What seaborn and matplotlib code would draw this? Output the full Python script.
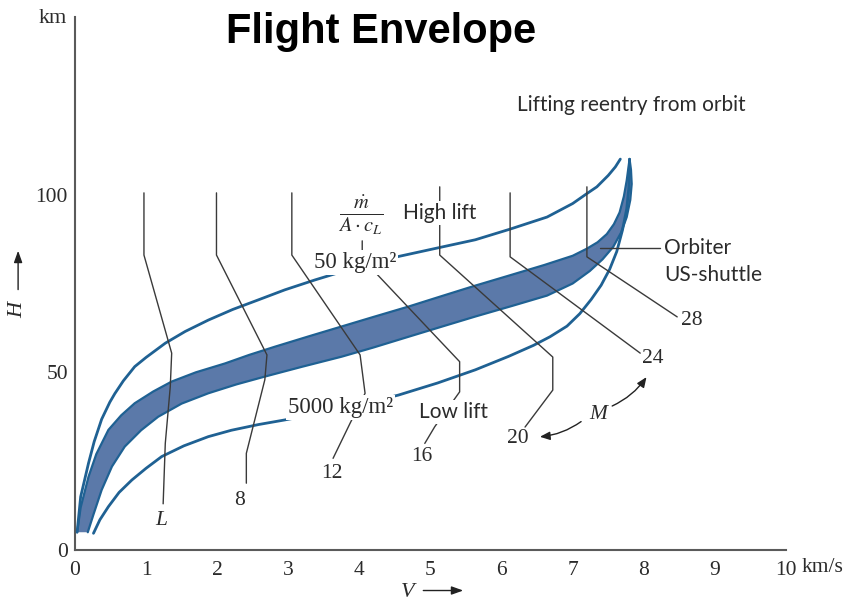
import numpy as np
import matplotlib
matplotlib.use("Agg")
import matplotlib.pyplot as plt
import seaborn as sns

# Corridor boundaries: velocity V (km/s) and altitude H (km)
high_lift_v = [0.03, 0.08, 0.19, 0.27, 0.375, 0.49, 0.56, 0.68, 0.84, 1.00, 1.27, 1.55, 1.875,
               2.22, 2.58, 2.95, 3.375, 3.90, 4.55, 5.10, 5.63, 6.12, 6.64, 7.00, 7.20, 7.34,
               7.50, 7.60, 7.67]
high_lift_h = [5, 15, 24.4, 30.5, 36.8, 41.6, 44, 47.6, 51.6, 54.2, 58.2, 61.5, 64.7,
               67.7, 70.4, 73.2, 76, 79.2, 82.6, 85.0, 87.3, 90.3, 93.7, 97.5, 100.3, 102.2,
               105.4, 107.8, 110]

low_lift_v = [0.26, 0.35, 0.47, 0.62, 0.80, 1.00, 1.22, 1.53, 1.875, 2.20, 2.58, 2.95, 3.375,
              3.95, 4.55, 5.10, 5.63, 6.10, 6.45, 6.68, 6.92, 7.10, 7.26, 7.40, 7.52, 7.62,
              7.70, 7.76, 7.79, 7.80]
low_lift_h = [4.7, 8.5, 12.2, 16.2, 19.7, 23, 26.3, 29.3, 31.9, 33.7, 35.3, 36.6, 38.2,
              40.6, 43.6, 47, 50.7, 54.5, 57.6, 60, 63, 66.5, 70.5, 74.5, 79, 84,
              90, 96, 102, 110]

orbiter_upper_v = [0.03, 0.08, 0.19, 0.30, 0.47, 0.65, 0.84, 1.10, 1.36, 1.70, 2.11, 2.45,
                   2.81, 3.30, 3.75, 4.20, 4.69, 5.15, 5.63, 6.10, 6.60, 7.00, 7.20, 7.35,
                   7.48, 7.58, 7.66, 7.72, 7.76, 7.80]
orbiter_upper_h = [5, 12, 20.6, 27, 33.8, 37.9, 41.3, 44.6, 47.4, 50, 52.5, 54.9,
                   57.2, 60.2, 62.9, 65.6, 68.5, 71.4, 74.4, 77.2, 80.2, 82.8, 84.8, 86.6,
                   88.9, 91.7, 95, 99.5, 104, 110]
orbiter_lower_v = [0.18, 0.26, 0.375, 0.52, 0.70, 0.93, 1.17, 1.50, 1.875, 2.27, 2.67, 3.20,
                   3.75, 4.20, 4.69, 5.15, 5.63, 6.15, 6.64, 7.00, 7.24, 7.42, 7.57, 7.68,
                   7.76, 7.81, 7.83, 7.82, 7.80]
orbiter_lower_h = [5, 10, 16.9, 23.5, 29.1, 33.7, 37.5, 41.2, 44.1, 46.6, 48.8, 51.6,
                   54.4, 57, 60, 62.8, 65.7, 68.7, 71.6, 75, 78.5, 81.8, 85.3, 89.3,
                   93.7, 98.5, 103, 107, 110]

# Mach number lines
mach_lines = {
    "L":  ([0.97, 0.97, 1.36, 1.34, 1.27, 1.24], [100.5, 83, 55.4, 45.9, 30, 13]),
    "8":  ([1.99, 1.99, 2.70, 2.67, 2.41, 2.41], [100.5, 83, 54.9, 47.9, 27.2, 18.8]),
    "12": ([3.05, 3.05, 4.01, 4.08, 3.87, 3.63], [100.5, 83, 54.9, 44.1, 35.7, 25.8]),
    "16": ([4.04, 4.04, 5.41, 5.41, 5.06, 4.92], [87, 82, 53, 44.5, 34.7, 30]),
    "20": ([5.13, 5.13, 6.72, 6.72, 6.33], [102.2, 83, 54.3, 45, 34.6]),
    "24": ([6.12, 6.12, 7.95], [100.5, 82.5, 55.4]),
    "28": ([7.20, 7.20, 8.47], [102.2, 82.5, 65.6]),
}
mach_label_pos = {
    "L": (1.21, 8.4), "8": (2.32, 14.0), "12": (3.61, 21.6), "16": (4.88, 26.3),
    "20": (6.23, 31.5), "24": (8.13, 54.0), "28": (8.68, 64.5),
}

x_ticks = [0, 1, 2, 3, 4, 5, 6, 7, 8, 9, 10]
y_ticks = [0, 50, 100]

orbiter_leader_v = [7.38, 8.23]
orbiter_leader_h = [85, 85]

sns.set_style("white")
plt.rcParams["font.family"] = ["Liberation Serif", "DejaVu Serif"]
plt.rcParams["mathtext.fontset"] = "stix"

curve_col = "#1f6193"
band_col = "#5b79a9"
mach_col = "#3a3a3a"
axis_col = "#5a5a5a"
txt_col = "#2b2b2b"
sans = ["Lato", "DejaVu Sans"]
num_fs = 15.5
sans_fs = 15

fig = plt.figure(figsize=(8.56, 6.06), dpi=100)
ax = fig.add_axes([0.0876, 0.0924, 0.8306, 0.8796])
ax.set_xlim(0, 10)
ax.set_ylim(0, 150)

# Orbiter corridor band
band_v = np.concatenate([orbiter_upper_v, orbiter_lower_v[::-1]])
band_h = np.concatenate([orbiter_upper_h, orbiter_lower_h[::-1]])
ax.fill(band_v, band_h, color=band_col, lw=0, zorder=2)
for v, h in [(orbiter_upper_v, orbiter_upper_h), (orbiter_lower_v, orbiter_lower_h)]:
    sns.lineplot(x=v, y=h, sort=False, estimator=None, ax=ax, color=curve_col, lw=1.6, zorder=3)

# Outer boundaries
for v, h in [(high_lift_v, high_lift_h), (low_lift_v, low_lift_h)]:
    sns.lineplot(x=v, y=h, sort=False, estimator=None, ax=ax, color=curve_col, lw=2.0, zorder=3)

# Mach lines and their labels
for name, (v, h) in mach_lines.items():
    sns.lineplot(x=v, y=h, sort=False, estimator=None, ax=ax, color=mach_col, lw=1.0, zorder=4)
    lx, ly = mach_label_pos[name]
    ax.text(lx, ly, name, ha="center", va="center", fontsize=num_fs, color=txt_col,
            style="italic" if name == "L" else "normal", zorder=6)

sns.lineplot(x=orbiter_leader_v, y=orbiter_leader_h, sort=False, estimator=None, ax=ax,
             color=mach_col, lw=1.0, zorder=4)

white = dict(facecolor="white", edgecolor="none", pad=1.5)
ax.text(4.01, 94.3, r"$\frac{\dot{m}}{A\cdot c_L}$", ha="center", va="center",
        fontsize=21, color=txt_col, bbox=white, zorder=7)
ax.text(3.94, 80.8, "50 kg/m²", ha="center", va="center", fontsize=16.5,
        color=txt_col, bbox=white, zorder=7)
ax.text(3.73, 40.0, "5000 kg/m²", ha="center", va="center", fontsize=16.5,
        color=txt_col, bbox=white, zorder=7)
ax.text(5.13, 94.8, "High lift", ha="center", va="center", fontsize=sans_fs,
        family=sans, color=txt_col, bbox=white, zorder=7)
ax.text(5.32, 38.9, "Low lift", ha="center", va="center", fontsize=sans_fs,
        family=sans, color=txt_col, bbox=white, zorder=7)
ax.text(8.29, 85.0, "Orbiter", ha="left", va="center", fontsize=sans_fs,
        family=sans, color=txt_col, zorder=7)
ax.text(8.29, 77.4, "US-shuttle", ha="left", va="center", fontsize=sans_fs,
        family=sans, color=txt_col, zorder=7)
ax.text(7.83, 125.2, "Lifting reentry from orbit", ha="center", va="center",
        fontsize=sans_fs, family=sans, color=txt_col, zorder=7)

# Mach number double arrow
ax.text(7.36, 38.2, "M", ha="center", va="center", fontsize=num_fs, style="italic", color=txt_col)
arrow_kw = dict(arrowstyle="-|>,head_length=0.6,head_width=0.25", color="#222222", lw=1.0)
ax.annotate("", xy=(6.50, 31.8), xytext=(7.15, 36.6),
            arrowprops=dict(connectionstyle="arc3,rad=-0.15", **arrow_kw))
ax.annotate("", xy=(8.06, 49.3), xytext=(7.52, 40.2),
            arrowprops=dict(connectionstyle="arc3,rad=0.15", **arrow_kw))

# Axes styling
sns.despine(ax=ax)
for s in ["left", "bottom"]:
    ax.spines[s].set_color(axis_col)
    ax.spines[s].set_linewidth(1.5)
ax.set_xticks(x_ticks)
ax.set_xticklabels([str(t) for t in x_ticks])
ax.set_yticks(y_ticks)
ax.set_yticklabels([str(t) for t in y_ticks])
ax.tick_params(axis="both", direction="in", length=7, width=1.3, color=axis_col,
               labelsize=num_fs, labelcolor=txt_col)
ax.tick_params(axis="x", pad=8)
ax.tick_params(axis="y", pad=5)

ax.text(10.22, -4.9, "km/s", ha="left", va="center", fontsize=num_fs, color=txt_col, clip_on=False)
ax.text(-0.31, 149.5, "km", ha="center", va="center", fontsize=16, color=txt_col, clip_on=False)

# Axis symbols with arrows
ax.text(4.68, -11.9, "V", ha="center", va="center", fontsize=16, style="italic",
        color=txt_col, clip_on=False)
ax.annotate("", xy=(5.50, -11.4), xytext=(4.86, -11.4), annotation_clip=False,
            arrowprops=dict(arrowstyle="-|>,head_length=0.7,head_width=0.25", color="#222222", lw=1.0))
ax.text(-0.80, 67.5, "H", ha="center", va="center", fontsize=16, style="italic",
        rotation=90, color=txt_col, clip_on=False)
ax.annotate("", xy=(-0.80, 85.0), xytext=(-0.80, 72.5), annotation_clip=False,
            arrowprops=dict(arrowstyle="-|>,head_length=0.7,head_width=0.25", color="#222222", lw=1.0))

fig.text(381 / 856, 1 - 32 / 606, "Flight Envelope", ha="center", va="center",
         fontsize=30, fontweight="bold", family=["Liberation Sans", "DejaVu Sans"], color="black")

fig.savefig("out.png", dpi=100)
